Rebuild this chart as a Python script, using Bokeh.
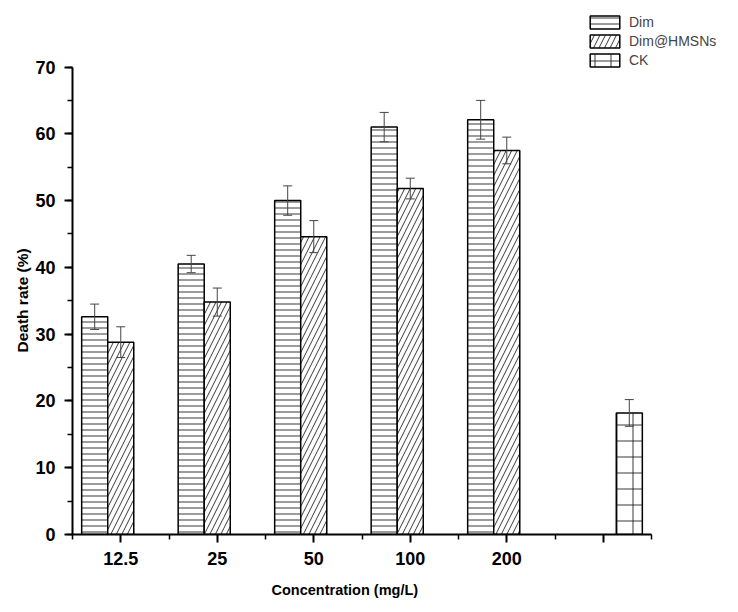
import numpy as np
from bokeh.plotting import figure
from bokeh.models import (Range1d, FixedTicker, SingleIntervalTicker, ColumnDataSource,
                          Whisker, TeeHead, Legend, LegendItem, Title)
from bokeh.embed import file_html
from bokeh.resources import INLINE

# ---- data ----
categories = ["12.5", "25", "50", "100", "200", ""]
dim_values = [32.6, 40.5, 50.0, 61.0, 62.1]
dim_errors = [1.9, 1.3, 2.2, 2.2, 2.9]
hmsn_values = [28.8, 34.8, 44.6, 51.8, 57.5]
hmsn_errors = [2.3, 2.1, 2.4, 1.55, 2.0]
ck_values = [18.2]
ck_errors = [2.0]
series_names = ["Dim", "Dim@HMSNs", "CK"]
x_title = "Concentration (mg/L)"
y_title = "Death rate (%)"
y_max = 70

FONT = "Liberation Sans"
BAR_W = 0.27
n_cat = len(categories)

# frame geometry (pixels): axes occupy 579 x 467.5 px, extra room above/right for the legend
AXES_W = 579
AXES_H = 467.5
PX_PER_CAT = AXES_W / n_cat
PX_PER_Y = AXES_H / y_max
FRAME_W = 658
FRAME_H = 526

idx = np.arange(len(dim_values), dtype=float)
ck_idx = np.array([n_cat - 1], dtype=float)

src_dim = ColumnDataSource(dict(x=idx - BAR_W, top=dim_values,
                                upper=np.array(dim_values) + np.array(dim_errors),
                                lower=np.array(dim_values) - np.array(dim_errors)))
src_hm = ColumnDataSource(dict(x=idx, top=hmsn_values,
                               upper=np.array(hmsn_values) + np.array(hmsn_errors),
                               lower=np.array(hmsn_values) - np.array(hmsn_errors)))
src_ck = ColumnDataSource(dict(x=ck_idx + BAR_W, top=ck_values,
                               upper=np.array(ck_values) + np.array(ck_errors),
                               lower=np.array(ck_values) - np.array(ck_errors)))

p = figure(frame_width=FRAME_W, frame_height=FRAME_H,
           min_border_left=72, min_border_top=8, min_border_right=0, min_border_bottom=70,
           x_range=Range1d(-0.5, -0.5 + FRAME_W / PX_PER_CAT),
           y_range=Range1d(0, FRAME_H / PX_PER_Y),
           output_backend="svg", toolbar_location=None)
p.xgrid.visible = False
p.ygrid.visible = False
p.outline_line_color = None
p.background_fill_color = "white"
p.border_fill_color = "white"

bar_kw = dict(width=BAR_W, bottom=0, fill_color="white", line_color="black", line_width=1.5,
              hatch_color="#222222", hatch_weight=1, hatch_alpha=0.9)
r_dim = p.vbar(x="x", top="top", source=src_dim, hatch_pattern="-", hatch_scale=6, **bar_kw)
r_hm = p.vbar(x="x", top="top", source=src_hm, hatch_pattern="/", hatch_scale=11, **bar_kw)
r_ck = p.vbar(x="x", top="top", source=src_ck, hatch_pattern="+", hatch_scale=16, **bar_kw)

for s in (src_dim, src_hm, src_ck):
    w = Whisker(source=s, base="x", upper="upper", lower="lower", level="overlay",
                line_color="#444444", line_width=1,
                upper_head=TeeHead(size=9, line_color="#444444", line_width=1),
                lower_head=TeeHead(size=9, line_color="#444444", line_width=1))
    p.add_layout(w)

# axes
xa = p.xaxis[0]
xa.ticker = FixedTicker(ticks=list(range(n_cat)),
                        minor_ticks=[i - 0.5 for i in range(n_cat + 1)])
xa.major_label_overrides = {i: c for i, c in enumerate(categories)}
xa.bounds = (-0.5, n_cat - 0.5)
ya = p.yaxis[0]
ya.ticker = SingleIntervalTicker(interval=10, num_minor_ticks=2)
ya.bounds = (0, y_max)

for ax in (xa, ya):
    ax.axis_line_width = 2
    ax.axis_line_color = "black"
    ax.major_tick_line_width = 2
    ax.major_tick_line_color = "black"
    ax.minor_tick_line_width = 1.5
    ax.minor_tick_line_color = "black"
    ax.major_tick_in = 0
    ax.major_tick_out = 8
    ax.minor_tick_in = 0
    ax.minor_tick_out = 5
    ax.major_label_text_font = FONT
    ax.major_label_text_font_style = "bold"
    ax.major_label_text_font_size = "18px"
    ax.major_label_text_color = "black"
xa.major_label_standoff = 9
ya.major_label_standoff = 9

# axis titles placed along the axes (not centred on the enlarged frame)
ytitle = Title(text=y_title, align="left", offset=182,
               text_font=FONT, text_font_style="bold", text_font_size="15.5px",
               text_color="black", standoff=4)
p.add_layout(ytitle, "left")
xtitle = Title(text=x_title, align="left", offset=199,
               text_font=FONT, text_font_style="bold", text_font_size="14.5px",
               text_color="black", standoff=24)
p.add_layout(xtitle, "below")

legend = Legend(items=[LegendItem(label=series_names[0], renderers=[r_dim]),
                       LegendItem(label=series_names[1], renderers=[r_hm]),
                       LegendItem(label=series_names[2], renderers=[r_ck])],
                location=(514, 466), glyph_width=37, glyph_height=16, label_height=16,
                spacing=3, padding=0, margin=0, label_standoff=6,
                label_text_font=FONT, label_text_font_size="14px",
                border_line_alpha=0, background_fill_alpha=0)
p.add_layout(legend)

open("out.html", "w").write(file_html(p, INLINE))
